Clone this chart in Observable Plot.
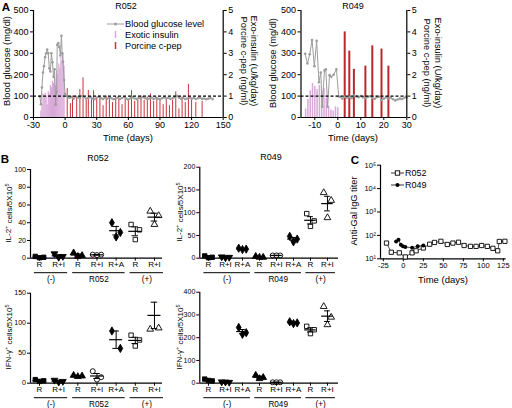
<!DOCTYPE html>
<html><head><meta charset="utf-8">
<script src="https://cdn.jsdelivr.net/npm/d3@7"></script>
<script src="https://cdn.jsdelivr.net/npm/@observablehq/plot@0.6"></script>
<style>
body{margin:0;background:#fff;}
#fig{position:relative;width:512px;height:408px;overflow:hidden;background:#fff;}
#fig svg{position:absolute;overflow:visible;}
</style></head><body><div id="fig"></div>
<script>
const FONT = "'Liberation Sans', Arial, Helvetica, sans-serif";
const GRAY = "#9d9d9d", PINK = "#d9a8d9", RED = "#c8343c", RED2 = "#b8282e";

// ---------- Panel A data: [day, value] ----------
const glucoseR052 = [[-24,98],[-23,62],[-22,140],[-21,210],[-20,240],[-19,282],[-18,300],[-17,318],[-16,300],[-15,230],[-14,215],[-13,300],[-12,258],[-11,190],[-10,225],[-9,60],[-8,120],[-7.5,340],[-6.5,348],[-5.5,330],[-4.5,290],[-3.5,382],[-2.8,300],[-2,260],[-1,175],[0,110],
[2,98],[4,92],[6,95],[8,88],[10,97],[12,93],[14,90],[16,100],[18,96],[20,88],[22,91],[24,95],[26,89],[28,86],[30,93],[32,97],[34,90],[36,87],[38,92],[40,88],[42,94],[44,90],[46,85],[48,89],[50,93],[52,87],[54,91],[56,96],[58,88],[60,84],[62,90],[64,94],[66,89],[68,86],[70,92],[72,88],[74,95],[76,90],[78,86],[80,89],[82,93],[84,87],[86,91],[88,88],[90,85],[92,90],[94,94],[96,89],[98,92],[100,87],[102,90],[104,95],[106,101],[108,93],[110,88],[112,91],[114,86],[116,89],[118,93],[120,88],[122,91],[124,86],[126,90],[128,92],[130,87],[132,89],[134,85],[136,88],[138,91],[140,86]];
const insulinR052 = [[-23,0.3],[-22,0.6],[-21,1.1],[-20,0.9],[-19,1.15],[-18,1.0],[-17,0.6],[-16,1.2],[-15,1.1],[-14,1.5],[-13,1.4],[-12,1.7],[-11,1.6],[-10,1.85],[-9,1.5],[-8,2.2],[-7,2.0],[-6,2.5],[-5,2.3],[-4,2.8],[-3,2.6],[-2,3.0],[-1,2.4]];
const cpepR052 = [[2,1.35],[5,0.65],[7,1.0],[11,0.9],[14,1.3],[17,1.85],[20,0.8],[22,1.27],[25,0.95],[27,1.25],[30,0.9],[33,1.0],[36,0.55],[39,1.0],[42,0.9],[45,0.7],[48,0.95],[51,0.85],[54,0.6],[57,0.95],[60,0.85],[63,1.25],[66,0.75],[69,0.9],[72,1.0],[75,0.8],[78,0.95],[81,1.1],[84,0.75],[87,0.95],[90,0.9],[93,0.6],[96,0.9],[99,0.55],[102,0.8],[105,1.2],[108,0.4],[111,0.95],[114,0.7],[117,1.55],[120,0.85],[124,0.7],[130,0.75]];
const glucoseR049 = [[-14.2,298],[-13.2,252],[-12.2,295],[-11.2,362],[-10.2,240],[-9.2,358],[-8.2,165],[-7.4,210],[-6.8,50],[-5.8,220],[-5.2,225],[-4.4,50],[-3.6,198],[-2.8,190],[-1.8,200],[-0.6,225],[0.4,98],
[1,96],[2,88],[3,97],[4,92],[5,95],[6,90],[7,102],[8,98],[9,95],[10,100],[11,94],[12,90],[13,96],[14,99],[15,91],[16,87],[17,95],[18,97],[19,82],[20,88],[21,94],[22,90],[23,92],[24,85],[25,80],[26,84],[27,88],[28,86],[29,92],[30,95]];
const insulinR049 = [[-14,0.4],[-13,0.85],[-12,1.25],[-11,1.6],[-10,1.45],[-9,1.3],[-8,1.5],[-7,1.25],[-6,1.35],[-5,0.9],[-4,0.5],[-3,0.35],[-2,0.3],[-1,0.5],[0,0.45]];
const cpepR049 = [[3,4.0],[5,3.1],[7,2.25],[12,2.4],[15,3.35],[19,3.2],[22,2.4]];

// ---------- Panel B data ----------
const catsR052 = ["R","R+I","R","R+I","R+A","R","R+I"];
const grpsR052 = ["(-)","(-)","R052","R052","R052","(+)","(+)"];
const shapesR052 = ["sq","tdn","tup","oc","dia","osq","otri"];
const catsR049 = ["R","R+I","R+A","R","R+I","R+A","R","R+I"];
const grpsR049 = ["(-)","(-)","(-)","R049","R049","R049","(+)","(+)"];
const shapesR049 = ["sq","tdn","dia","tup","oc","dia","osq","otri"];

const il2R052Vals = [[2,1,0.5],[5,2,1],[6,3,2],[4,4,3.5],[40,29,24],[38,32,21],[53,48,38]];
const il2R052Mean = [1.2,2.7,3.7,3.8,31,30.3,46.3];
const il2R052Sem  = [0.5,1.2,1.2,0.3,4.8,5,4.4];
const il2R049Vals = [[5,2,1],[3,2,1],[22,20,19],[4,2,2],[6,6,6],[48,42,36],[98,82,70],[144,127,89]];
const il2R049Mean = [2.7,2,20.3,2.7,6,42,83.3,120];
const il2R049Sem  = [1.2,0.6,0.9,0.7,0.3,3.5,8,16];
const ifnR052Vals = [[6,4,3],[5,3,2],[13,12,11],[20,10,6],[87,58],[80,72,62],[90,92,157]];
const ifnR052Mean = [4.3,3.3,12,12,72.5,71.3,113];
const ifnR052Sem  = [0.9,0.9,0.6,4.2,14.5,5.2,22];
const ifnR049Vals = [[18,10,12],[6,4,5],[245,222,215],[35,25,20],[4,4,4],[270,265,262],[250,235,218],[337,290,257]];
const ifnR049Mean = [13.3,5,227,26.7,4,265.7,234.3,294.7];
const ifnR049Sem  = [2.4,0.6,9,4.4,0.3,2.3,9.2,23.3];

// ---------- Panel C data: [day, titer] ----------
const galR052 = [[-21,47],[-15,19],[-5,18],[2.5,12],[11,18],[16,22],[25,29],[33,42],[39,50],[47,56],[55,41],[62,47],[69,51],[76,37],[84,34],[91,34],[98,37],[105,34],[112,28],[118,22],[120,55],[127,56]];
const galR049 = [[-9,55],[-6,65],[-3,40],[-0.5,34],[2.5,32],[11,30],[18,34],[25,37]];

const fig = document.getElementById("fig");
function place(svg, left, top){ svg.style.position="absolute"; svg.style.left=left+"px"; svg.style.top=top+"px"; svg.style.background="transparent"; svg.style.overflow="visible"; svg.style.maxWidth="none"; fig.appendChild(svg); return svg; }

// ---------- Panel A ----------
function panelA(o){
  const common = {width:o.width, height:o.height, marginLeft:o.mL, marginRight:o.mR, marginTop:o.mT, marginBottom:o.mB,
    style:{background:"transparent", fontFamily:FONT, fontSize:"9px", overflow:"visible"}};
  const under = Plot.plot({...common,
    x:{domain:o.xDomain, axis:null},
    y:{domain:[0,5]},
    marks:[
      Plot.ruleX(o.insulin, {x:d=>d[0], y1:0, y2:d=>d[1], stroke:PINK, strokeWidth:o.insW}),
      Plot.ruleX(o.cpep, {x:d=>d[0], y1:0, y2:d=>d[1], stroke:o.cpepColor, strokeWidth:o.cpepW}),
      Plot.axisY({anchor:"right", ticks:[0,1,2,3,4,5], tickSize:3, tickPadding:2, label:null, fontSize:9, tickFormat:d=>String(d)})
    ]});
  const over = Plot.plot({...common,
    x:{domain:o.xDomain},
    y:{domain:[0,500]},
    marks:[
      Plot.line(o.glucose, {x:d=>d[0], y:d=>d[1], stroke:GRAY, strokeWidth:1}),
      Plot.dot(o.glucose, {x:d=>d[0], y:d=>d[1], r:1.3, fill:GRAY}),
      Plot.ruleY([100], {stroke:"#000", strokeWidth:1.3, strokeDasharray:"3,2"}),
      Plot.ruleY([0], {stroke:"#000", strokeWidth:1.2}),
      Plot.ruleX(o.xDomain, {stroke:"#000", strokeWidth:1.2}),
      Plot.axisY({ticks:[0,100,200,300,400,500], tickSize:3, tickPadding:2, label:null, fontSize:9}),
      Plot.axisX({ticks:o.xTicks, tickSize:3, tickPadding:1, label:null, fontSize:9, tickFormat:d=>String(d)})
    ]});
  place(under, o.left, o.top); place(over, o.left, o.top);
}
panelA({left:0, top:0, width:260, height:145, mL:33, mR:37.3, mT:10, mB:28, xDomain:[-30,150], xTicks:[-30,0,30,60,90,120,150],
  glucose:glucoseR052, insulin:insulinR052, cpep:cpepR052, insW:1.2, cpepW:1, cpepColor:RED});
panelA({left:250, top:0, width:200, height:145, mL:50.5, mR:43.7, mT:10, mB:28, xDomain:[-16,30], xTicks:[-10,0,10,20,30],
  glucose:glucoseR049, insulin:insulinR049, cpep:cpepR049, insW:1.5, cpepW:2, cpepColor:RED2});

// ---------- Panel B ----------
const SYM = {
  sq:{symbol:"square", fill:"#000"}, tdn:{symbol:"triangle", fill:"#000", rotate:180}, tup:{symbol:"triangle", fill:"#000"},
  oc:{symbol:"circle", fill:"#fff"}, dia:{symbol:"diamond", fill:"#000"}, osq:{symbol:"square", fill:"#fff"}, otri:{symbol:"triangle", fill:"#fff"}
};
const JIT = [-0.22, 0.22, 0];
function panelB(o){
  const n = o.cats.length;
  const names = [...new Set(o.grps)];
  const spans = names.map(g=>{ const idx=o.grps.map((v,i)=>v===g?i:-1).filter(i=>i>=0); const a=idx[0]-0.27, b=idx[idx.length-1]+0.47; return {name:g,x1:a,x2:b,xm:(a+b)/2}; });
  const stats = o.mean.map((m,i)=>({i, m, s:o.sem[i]}));
  const dots = o.vals.map((arr,i)=>{ const S=SYM[o.shapes[i]];
    return Plot.dot(arr.map((v,j)=>({x:i+JIT[j], v})).filter(d=>d.v<=o.yMax), {x:"x", y:"v", symbol:S.symbol, rotate:S.rotate||0, r:2.5, fill:S.fill, stroke:"#000", strokeWidth:0.9}); });
  const p = Plot.plot({width:o.width, height:o.height, marginLeft:o.mL, marginRight:o.mR, marginTop:o.mT, marginBottom:o.mB,
    style:{background:"transparent", fontFamily:FONT, fontSize:"8px", overflow:"visible"},
    x:{domain:o.xDomain}, y:{domain:[0,o.yMax]},
    marks:[
      ...dots,
      Plot.ruleY(stats, {y:"m", x1:d=>d.i-0.34, x2:d=>d.i+0.34, stroke:"#000", strokeWidth:1.2}),
      Plot.ruleX(stats, {x:"i", y1:d=>d.m-d.s, y2:d=>d.m+d.s, stroke:"#000", strokeWidth:1}),
      Plot.ruleY(stats, {y:d=>d.m-d.s, x1:d=>d.i-0.17, x2:d=>d.i+0.17, stroke:"#000", strokeWidth:1}),
      Plot.ruleY(stats, {y:d=>d.m+d.s, x1:d=>d.i-0.17, x2:d=>d.i+0.17, stroke:"#000", strokeWidth:1}),
      Plot.ruleY([0], {stroke:"#000", strokeWidth:1.2}),
      Plot.ruleX([o.xDomain[0]], {stroke:"#000", strokeWidth:1.2}),
      Plot.axisY({ticks:o.yTicks, tickSize:3, tickPadding:1.5, label:null, fontSize:7}),
      Plot.axisX({ticks:d3.range(n), tickFormat:i=>o.cats[i], tickSize:3, tickPadding:0.5, label:null, fontSize:8}),
      Plot.ruleY(spans, {y:0, x1:"x1", x2:"x2", dy:14.5, stroke:"#000", strokeWidth:1}),
      Plot.text(spans, {x:"xm", y:0, text:"name", dy:20.8, fontSize:8.2})
    ]});
  place(p, o.left, o.top);
}
panelB({left:0, top:150, width:175, height:140, mL:30, mR:13, mT:19, mB:32.3, xDomain:[-0.47,6.42], yMax:100, yTicks:[0,20,40,60,80,100],
  cats:catsR052, grps:grpsR052, shapes:shapesR052, vals:il2R052Vals, mean:il2R052Mean, sem:il2R052Sem});
panelB({left:175, top:150, width:175, height:140, mL:24.3, mR:12, mT:16.7, mB:32.3, xDomain:[-0.51,7.65], yMax:200, yTicks:[0,50,100,150,200],
  cats:catsR049, grps:grpsR049, shapes:shapesR049, vals:il2R049Vals, mean:il2R049Mean, sem:il2R049Sem});
panelB({left:0, top:285, width:175, height:123, mL:30, mR:13, mT:7.7, mB:25.3, xDomain:[-0.47,6.42], yMax:150, yTicks:[0,50,100,150],
  cats:catsR052, grps:grpsR052, shapes:shapesR052, vals:ifnR052Vals, mean:ifnR052Mean, sem:ifnR052Sem});
panelB({left:175, top:285, width:175, height:123, mL:24.3, mR:12, mT:6.7, mB:25.3, xDomain:[-0.51,7.65], yMax:400, yTicks:[0,100,200,300,400],
  cats:catsR049, grps:grpsR049, shapes:shapesR049, vals:ifnR049Vals, mean:ifnR049Mean, sem:ifnR049Sem});

// ---------- Panel C ----------
const SUP = {1:"¹",2:"²",3:"³",4:"⁴",5:"⁵"};
const pc = Plot.plot({width:167, height:135, marginLeft:35, marginRight:6.4, marginTop:9.7, marginBottom:31.7,
  style:{background:"transparent", fontFamily:FONT, fontSize:"7.5px", overflow:"visible"},
  x:{domain:[-28.5,128.5]}, y:{type:"log", domain:[10,1e5]},
  marks:[
    Plot.ruleY([10], {stroke:"#000", strokeWidth:1.2}),
    Plot.ruleX([-28.5], {stroke:"#000", strokeWidth:1.2}),
    Plot.axisY({ticks:[10,100,1000,10000,100000], tickFormat:d=>"10"+SUP[Math.round(Math.log10(d))], tickSize:3, tickPadding:1.5, label:null, fontSize:7.5}),
    Plot.axisX({ticks:[-25,0,25,50,75,100,125], tickFormat:d=>String(d), tickSize:3, tickPadding:1, label:null, fontSize:7.5}),
    Plot.line(galR052, {x:d=>d[0], y:d=>d[1], stroke:"#000", strokeWidth:0.7}),
    Plot.dot(galR052, {x:d=>d[0], y:d=>d[1], symbol:"square", r:2.4, fill:"#fff", stroke:"#000", strokeWidth:0.9}),
    Plot.line(galR049, {x:d=>d[0], y:d=>d[1], stroke:"#000", strokeWidth:0.7}),
    Plot.dot(galR049, {x:d=>d[0], y:d=>d[1], r:2, fill:"#000"})
  ]});
place(pc, 345, 155);

// ---------- Text overlay ----------
const ov = d3.create("svg").attr("width",512).attr("height",408).style("font-family",FONT).style("pointer-events","none");
function T(x,y,parts,{size=9,anchor="middle",rot=0,weight="normal"}={}){
  const t = ov.append("text").attr("transform",`translate(${x},${y}) rotate(${rot})`).attr("text-anchor",anchor)
    .attr("dominant-baseline","central").attr("font-size",size).attr("font-weight",weight).attr("fill","#000");
  if (typeof parts==="string") { t.text(parts); return; }
  let prevSup = false;
  parts.forEach(([s,sup])=>{ const ts=t.append("tspan").text(s);
    if(sup){ ts.attr("dy","-0.35em").attr("font-size",size*0.7); }
    else if(prevSup){ ts.attr("dy","0.35em"); }
    prevSup = !!sup; });
}
// panel letters
T(6,7,"A",{size:11.5,weight:"bold"}); T(5,159,"B",{size:11.5,weight:"bold"}); T(355,160,"C",{size:11.5,weight:"bold"});
// panel A
T(126,6,"R052"); T(353,6,"R049");
T(7,61,"Blood glucose (mg/dl)",{rot:-90,size:9.3});
T(244,61,"Porcine c-pep (ng/ml)",{rot:90,size:9.3}); T(254,61,"Exo-insulin (U/kg/day)",{rot:90,size:9.3});
T(273,63,"Blood glucose (mg/dl)",{rot:-90,size:9.3});
T(427,63,"Porcine c-pep (ng/ml)",{rot:90,size:9.3}); T(438,63,"Exo-insulin (U/kg/day)",{rot:90,size:9.3});
T(128,137,"Time (days)",{size:9.5}); T(353,137,"Time (days)",{size:9.5});
// panel A legend
ov.append("line").attr("x1",107).attr("x2",124).attr("y1",24).attr("y2",24).attr("stroke",GRAY).attr("stroke-width",1);
ov.append("circle").attr("cx",115.5).attr("cy",24).attr("r",1.5).attr("fill",GRAY);
T(125,24,"Blood glucose level",{anchor:"start",size:9.2});
ov.append("line").attr("x1",115.5).attr("x2",115.5).attr("y1",31).attr("y2",38).attr("stroke",PINK).attr("stroke-width",1.5);
T(125,34.5,"Exotic insulin",{anchor:"start",size:9.2});
ov.append("line").attr("x1",115.5).attr("x2",115.5).attr("y1",42).attr("y2",49).attr("stroke",RED).attr("stroke-width",1.5);
T(125,45.5,"Porcine c-pep",{anchor:"start",size:9.2});
// panel B
T(98,158,"R052"); T(271,157,"R049");
T(8,213,[["IL-2",0],["+",1],[" cells/5X10",0],["5",1]],{rot:-90,size:8});
T(179,212,[["IL-2",0],["+",1],[" cells/5X10",0],["5",1]],{rot:-90,size:8});
T(8,337,[["IFN-γ",0],["+",1],[" cells/5X10",0],["5",1]],{rot:-90,size:8});
T(179,337,[["IFN-γ",0],["+",1],[" cells/5X10",0],["5",1]],{rot:-90,size:8});
// panel C
T(354,211,"Anti-Gal IgG titer",{rot:-90,size:9.3});
T(443,279,"Time (days)",{size:9.5});
ov.append("line").attr("x1",391).attr("x2",404).attr("y1",173).attr("y2",173).attr("stroke","#000").attr("stroke-width",0.8);
ov.append("rect").attr("x",395.3).attr("y",170.8).attr("width",4.4).attr("height",4.4).attr("fill","#fff").attr("stroke","#000").attr("stroke-width",0.9);
T(405,173,"R052",{anchor:"start",size:9});
ov.append("line").attr("x1",391).attr("x2",404).attr("y1",185).attr("y2",185).attr("stroke","#000").attr("stroke-width",0.8);
ov.append("circle").attr("cx",397.5).attr("cy",185).attr("r",2).attr("fill","#000");
T(405,185,"R049",{anchor:"start",size:9});
place(ov.node(),0,0);
</script></body></html>
